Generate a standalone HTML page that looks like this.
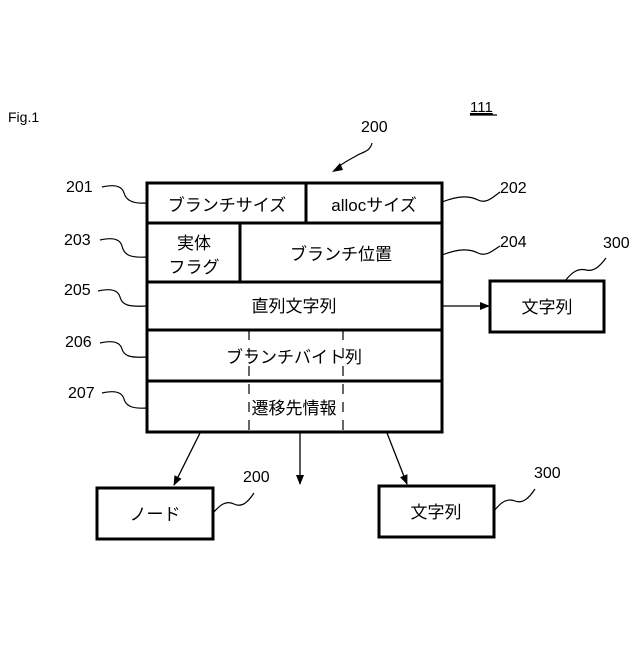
<!DOCTYPE html>
<html><head><meta charset="utf-8"><style>
body{margin:0;background:#fff}
svg text{font-family:"Liberation Sans","Noto Sans CJK JP",sans-serif;fill:#000}
</style></head><body>
<svg width="640" height="640" viewBox="0 0 640 640" xmlns="http://www.w3.org/2000/svg">
<defs><marker id="a" markerWidth="10" markerHeight="10" refX="9" refY="5" orient="auto" markerUnits="userSpaceOnUse"><path d="M0,1 L10,5 L0,9 z" fill="#000"/></marker></defs>
<g fill="none" stroke="#000">
<rect x="147" y="183" width="295" height="249" stroke-width="3"/>
<line x1="147" y1="223" x2="442" y2="223" stroke-width="3"/>
<line x1="147" y1="282" x2="442" y2="282" stroke-width="3"/>
<line x1="147" y1="330" x2="442" y2="330" stroke-width="3"/>
<line x1="147" y1="381" x2="442" y2="381" stroke-width="3"/>
<line x1="306" y1="183" x2="306" y2="223" stroke-width="3"/>
<line x1="240" y1="223" x2="240" y2="282" stroke-width="3"/>
<line x1="249" y1="330" x2="249" y2="432" stroke-width="1.2" stroke-dasharray="10,8"/>
<line x1="343" y1="330" x2="343" y2="432" stroke-width="1.2" stroke-dasharray="10,8"/>
<rect x="490" y="281" width="114" height="51" stroke-width="3"/>
<rect x="97" y="488" width="116" height="51" stroke-width="3"/>
<rect x="379" y="486" width="115" height="51" stroke-width="3"/>
<line x1="442" y1="306" x2="489" y2="306" stroke-width="1.3" marker-end="url(#a)"/>
<line x1="200" y1="433" x2="174" y2="485" stroke-width="1.3" marker-end="url(#a)"/>
<line x1="300" y1="433" x2="300" y2="484" stroke-width="1.3" marker-end="url(#a)"/>
<line x1="387" y1="433" x2="407" y2="484" stroke-width="1.3" marker-end="url(#a)"/>
<g stroke-width="1.2">
<path d="M102,187 C115,184 122,186 124,193 C126,200 132,204 147,203"/>
<path d="M100,240 C113,237 120,239 122,246 C124,255 130,258 147,257"/>
<path d="M98,291 C111,288 118,290 120,297 C122,305 128,307 147,306"/>
<path d="M100,343 C113,340 120,342 122,349 C124,356 130,358 147,357"/>
<path d="M102,393 C115,390 122,392 124,399 C126,406 132,409 147,408"/>
<path d="M442,202 C460,195 470,196 478,200 C486,204 492,198 500,192"/>
<path d="M442,255 C460,248 470,249 478,253 C486,257 492,251 500,246"/>
<path d="M565,281 C572,272 578,268 586,270 C594,272 600,266 606,258"/>
<path d="M213,513 C220,505 226,500 234,504 C242,508 248,502 254,493"/>
<path d="M494,511 C501,502 507,498 515,501 C523,504 529,498 535,489"/>
<path d="M372,143 C370,152 362,152 356,156 C349,160 344,162 337,168"/>
</g>
</g>
<path d="M332,172 L340,163 L343,170 z" fill="#000"/>
<g font-size="16">
<text x="8" y="122" font-size="14">Fig.1</text>
<text x="470" y="112" font-size="15" text-decoration="underline">111</text>
<line x1="470" y1="115" x2="497" y2="115" stroke="#000" stroke-width="1.3"/>
<text x="361" y="132">200</text>
<text x="66" y="192">201</text>
<text x="500" y="193">202</text>
<text x="64" y="245">203</text>
<text x="500" y="247">204</text>
<text x="64" y="295">205</text>
<text x="65" y="347">206</text>
<text x="68" y="398">207</text>
<text x="603" y="248">300</text>
<text x="243" y="482">200</text>
<text x="534" y="478">300</text>
</g>
<g font-size="17" text-anchor="middle">
<text x="227" y="211">ブランチサイズ</text>
<text x="374" y="211">allocサイズ</text>
<text x="194" y="249">実体</text>
<text x="194" y="273">フラグ</text>
<text x="341" y="260">ブランチ位置</text>
<text x="294" y="312">直列文字列</text>
<text x="294" y="363">ブランチバイト列</text>
<text x="294" y="414">遷移先情報</text>
<text x="547" y="313">文字列</text>
<text x="155" y="520">ノード</text>
<text x="436" y="518">文字列</text>
</g>
</svg>
</body></html>
